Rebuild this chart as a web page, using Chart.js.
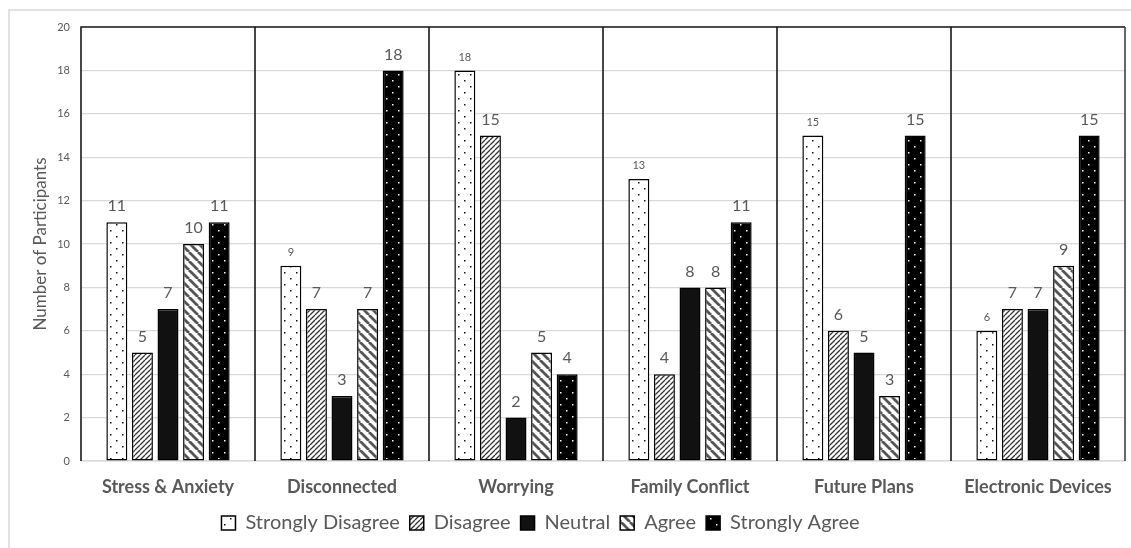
<!DOCTYPE html>
<html>
<head>
<meta charset="utf-8">
<script src="https://cdn.jsdelivr.net/npm/chart.js@4.4.0/dist/chart.umd.min.js"></script>
<style>
    html, body { margin: 0; padding: 0; background: #fff; }
    #wrap { width: 1131px; height: 548px; }
</style>
</head>
<body>
<div id="wrap"><canvas id="chart" width="1131" height="548"></canvas></div>
<script>
// Data
const categories = ['Stress & Anxiety', 'Disconnected', 'Worrying', 'Family Conflict', 'Future Plans', 'Electronic Devices'];
const seriesNames = ['Strongly Disagree', 'Disagree', 'Neutral', 'Agree', 'Strongly Agree'];
const stronglyDisagree = [11, 9, 18, 13, 15, 6];
const disagree = [5, 7, 15, 4, 6, 7];
const neutral = [7, 3, 2, 8, 5, 7];
const agree = [10, 7, 5, 8, 3, 9];
const stronglyAgree = [11, 18, 4, 11, 15, 15];
const yTicks = [0, 2, 4, 6, 8, 10, 12, 14, 16, 18, 20];

const FONT = 'Lato, "DejaVu Sans", sans-serif';

// Pattern helpers
function makeTile(w, h, draw) {
    const c = document.createElement('canvas');
    c.width = w; c.height = h;
    const g = c.getContext('2d');
    draw(g, w, h);
    return document.getElementById('chart').getContext('2d').createPattern(c, 'repeat');
}

function dots(bg, fg) {
    return makeTile(12, 12, (g, w, h) => {
        g.fillStyle = bg; g.fillRect(0, 0, w, h);
        g.fillStyle = fg;
        g.fillRect(2, 2, 1.5, 1.5);
        g.fillRect(8, 8, 1.5, 1.5);
    });
}

function hatch(size, width, color, dir) {
    return makeTile(size, size, (g, s) => {
        g.fillStyle = '#fff'; g.fillRect(0, 0, s, s);
        g.strokeStyle = color; g.lineWidth = width;
        g.beginPath();
        for (let k = -1; k <= 1; k++) {
            if (dir === '/') { g.moveTo(k * s, s); g.lineTo(k * s + s, 0); }
            else { g.moveTo(k * s, 0); g.lineTo(k * s + s, s); }
        }
        g.stroke();
    });
}

const fills = [
    dots('#ffffff', '#111111'),
    hatch(5, 1.3, '#333333', '/'),
    '#111111',
    hatch(9, 2.8, '#555555', '\\'),
    dots('#000000', '#ffffff')
];
const seriesData = [stronglyDisagree, disagree, neutral, agree, stronglyAgree];

// Frame, separators and outer border
const framePlugin = {
    id: 'frame',
    afterLayout(chart) {
        // legend sits a little left of centre in the original
        if (chart.legend) { chart.legend.left -= 22; chart.legend.right -= 22; }
    },
    beforeDraw(chart) {
        const ctx = chart.ctx;
        ctx.save();
        ctx.strokeStyle = '#d9d9d9';
        ctx.lineWidth = 1.5;
        ctx.beginPath();
        ctx.moveTo(9, 548);
        ctx.lineTo(9, 10);
        ctx.lineTo(1131, 10);
        ctx.stroke();
        ctx.restore();
    },
    beforeDatasetsDraw(chart) {
        const { ctx, chartArea: a, scales: { x } } = chart;
        ctx.save();
        ctx.strokeStyle = '#1a1a1a';
        ctx.lineWidth = 1.6;
        ctx.beginPath();
        ctx.moveTo(a.left, a.bottom);
        ctx.lineTo(a.left, a.top);
        ctx.lineTo(a.right, a.top);
        for (let i = 0; i < categories.length - 1; i++) {
            const sx = Math.round((x.getPixelForValue(i) + x.getPixelForValue(i + 1)) / 2);
            ctx.moveTo(sx, a.top);
            ctx.lineTo(sx, a.bottom);
        }
        ctx.stroke();
        ctx.strokeStyle = '#404040';
        ctx.beginPath();
        ctx.moveTo(a.right, a.top);
        ctx.lineTo(a.right, a.bottom);
        ctx.stroke();
        ctx.restore();
    }
};

// Value labels above bars
const valueLabels = {
    id: 'valueLabels',
    afterDatasetsDraw(chart) {
        const ctx = chart.ctx;
        ctx.save();
        ctx.fillStyle = '#595959';
        ctx.textAlign = 'center';
        ctx.textBaseline = 'middle';
        chart.data.datasets.forEach((ds, di) => {
            chart.getDatasetMeta(di).data.forEach((bar, i) => {
                const small = di === 0 && i > 0;
                ctx.font = (small ? '11px ' : '16px ') + FONT;
                ctx.fillText(ds.data[i], bar.x, bar.y - (small ? 13 : 16));
            });
        });
        ctx.restore();
    }
};

new Chart(document.getElementById('chart'), {
    type: 'bar',
    data: {
        labels: categories,
        datasets: seriesNames.map((name, i) => ({
            label: name,
            data: seriesData[i],
            backgroundColor: fills[i],
            borderColor: '#000',
            borderWidth: 1.5,
            borderSkipped: false,
            barPercentage: 0.82,
            categoryPercentage: 0.735
        }))
    },
    options: {
        responsive: false,
        animation: false,
        layout: { padding: { left: 0, right: 6, top: 27, bottom: 5 } },
        plugins: {
            legend: {
                position: 'bottom',
                labels: {
                    font: { family: FONT, size: 20 },
                    color: '#595959',
                    boxWidth: 14,
                    boxHeight: 14,
                    padding: 10,
                    generateLabels(chart) {
                        return chart.data.datasets.map((ds, i) => ({
                            text: ds.label,
                            fillStyle: fills[i],
                            strokeStyle: '#000',
                            lineWidth: 1.5,
                            fontColor: '#595959',
                            datasetIndex: i
                        }));
                    }
                }
            },
            tooltip: { enabled: false }
        },
        scales: {
            x: {
                grid: { display: false, drawTicks: false },
                border: { color: '#d9d9d9', width: 1.5 },
                ticks: {
                    font: { family: FONT, size: 18, weight: 'bold' },
                    color: '#595959',
                    padding: 15
                },
                afterFit(scale) { scale.height = 42; }
            },
            y: {
                min: 0,
                max: 20,
                afterBuildTicks(scale) { scale.ticks = yTicks.map(v => ({ value: v })); },
                grid: { color: '#d9d9d9', lineWidth: 1.2, drawTicks: false },
                border: { display: false },
                ticks: {
                    font: { family: FONT, size: 11 },
                    color: '#595959',
                    padding: 11
                },
                title: {
                    display: true,
                    text: 'Number of Participants',
                    font: { family: FONT, size: 17 },
                    color: '#595959',
                    padding: { top: 30 }
                },
                afterFit(scale) { scale.width = 81; }
            }
        }
    },
    plugins: [framePlugin, valueLabels]
});
</script>
</body>
</html>
